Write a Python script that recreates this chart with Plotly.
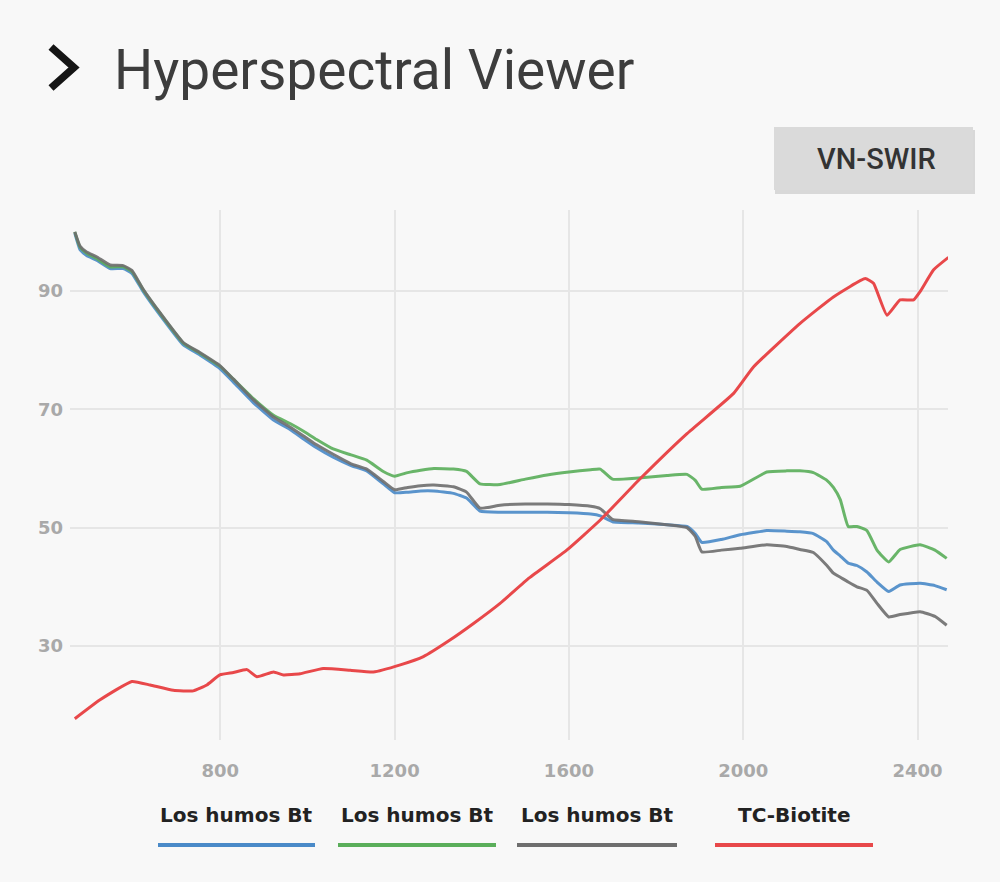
import plotly.graph_objects as go

# ---------------- data ----------------
wavelength = [466, 478, 493, 516, 547, 577, 597, 623, 662, 715, 753, 799, 830, 876, 922, 960,
              991, 1021, 1059, 1100, 1136, 1174, 1200, 1230, 1260, 1290, 1335, 1365, 1396, 1442,
              1500, 1550, 1600, 1650, 1672, 1700, 1760, 1825, 1871, 1890, 1905, 1950, 1993, 2054,
              2100, 2130, 2161, 2192, 2207, 2223, 2241, 2261, 2284, 2307, 2334, 2360, 2406, 2440, 2467]

humos_blue = [99.8, 97.0, 96.0, 95.2, 93.8, 93.8, 93.0, 89.9, 85.9, 80.9, 79.2, 76.9, 74.6, 71.1, 68.2, 66.6,
              65.0, 63.5, 61.9, 60.5, 59.6, 57.4, 55.9, 56.0, 56.2, 56.2, 55.8, 55.0, 52.8, 52.6,
              52.6, 52.6, 52.5, 52.3, 52.0, 51.0, 50.8, 50.5, 50.2, 49.0, 47.5, 48.0, 48.8, 49.5,
              49.4, 49.3, 49.0, 47.6, 46.2, 45.2, 44.0, 43.6, 42.5, 40.8, 39.2, 40.3, 40.6, 40.2, 39.5]

humos_green = [100.0, 97.4, 96.4, 95.5, 94.1, 94.1, 93.3, 90.2, 86.2, 81.2, 79.5, 77.3, 75.1, 71.8, 69.0, 67.6,
               66.3, 64.9, 63.3, 62.3, 61.4, 59.5, 58.7, 59.3, 59.7, 60.0, 59.9, 59.5, 57.4, 57.3,
               58.2, 58.9, 59.4, 59.8, 59.9, 58.2, 58.4, 58.8, 59.0, 58.0, 56.5, 56.8, 57.0, 59.4,
               59.6, 59.6, 59.3, 58.0, 56.8, 54.7, 50.2, 50.2, 49.5, 46.2, 44.2, 46.3, 47.1, 46.2, 44.8]

humos_gray = [100.0, 97.6, 96.6, 95.8, 94.4, 94.3, 93.5, 90.3, 86.3, 81.3, 79.6, 77.4, 75.1, 71.6, 68.7, 67.0,
              65.5, 64.0, 62.4, 60.8, 59.9, 57.8, 56.4, 56.8, 57.1, 57.2, 56.9, 56.0, 53.3, 53.8,
              54.0, 54.0, 53.9, 53.6, 53.2, 51.4, 51.0, 50.5, 50.0, 48.5, 45.9, 46.2, 46.5, 47.1,
              46.8, 46.3, 45.8, 43.6, 42.3, 41.6, 40.8, 40.0, 39.4, 37.2, 34.9, 35.3, 35.8, 35.0, 33.5]

biotite_wavelength = [466, 524, 597, 639, 692, 738, 769, 799, 830, 861, 884, 922, 945, 983, 1036, 1098,
                      1151, 1213, 1266, 1327, 1381, 1442, 1509, 1595, 1672, 1764, 1871, 1978, 2024,
                      2130, 2207, 2280, 2299, 2330, 2360, 2391, 2406, 2437, 2471]
biotite = [17.7, 20.9, 24.0, 23.4, 22.5, 22.4, 23.4, 25.1, 25.5, 26.0, 24.8, 25.6, 25.1, 25.3, 26.2, 25.9,
           25.6, 26.8, 28.2, 31.0, 33.8, 37.2, 41.5, 46.2, 51.3, 58.3, 65.9, 72.7, 77.2,
           84.5, 89.0, 92.1, 91.3, 85.9, 88.5, 88.5, 89.9, 93.6, 95.7]

series_names = ["Los humos Bt", "Los humos Bt", "Los humos Bt", "TC-Biotite"]
series_colors = ["#4a8ac8", "#5aae5a", "#6e6e6e", "#e8484a"]
x_ticks = [800, 1200, 1600, 2000, 2400]
y_ticks = [30, 50, 70, 90]

# ---------------- layout geometry ----------------
W, H = 1000, 882
ML, MR, MT, MB = 70, 52, 210, 142
PW, PH = W - ML - MR, H - MT - MB
BG = "#f8f8f8"


def px(x):
    return (x - ML) / PW


def py(y):
    return (H - MB - y) / PH


fig = go.Figure()
ys = [humos_blue, humos_green, humos_gray]
for i, yv in enumerate(ys):
    fig.add_trace(go.Scatter(x=wavelength, y=yv, mode="lines", name=series_names[i],
                             line=dict(color=series_colors[i], width=3, shape="spline", smoothing=0.4),
                             opacity=0.9, showlegend=False))
fig.add_trace(go.Scatter(x=biotite_wavelength, y=biotite, mode="lines", name=series_names[3],
                         line=dict(color=series_colors[3], width=3, shape="spline", smoothing=0.4),
                         showlegend=False))

tickfont = dict(family="DejaVu Sans", size=18, color="#a9a9a9", weight="bold")
fig.update_xaxes(range=[455, 2470], tickvals=x_ticks, showgrid=True, gridcolor="#e6e6e6",
                 gridwidth=1.5, zeroline=False, showline=False, ticks="", tickfont=tickfont,
                 ticklabelstandoff=18)
fig.update_yaxes(range=[14.1, 103.7], tickvals=y_ticks, showgrid=True, gridcolor="#e6e6e6",
                 gridwidth=1.5, zeroline=False, showline=False, ticks="", tickfont=tickfont,
                 ticklabelstandoff=6)

shapes = []
annotations = []

# title chevron
shapes.append(dict(type="path", xref="paper", yref="paper",
                   path=f"M {px(51)},{py(47)} L {px(74)},{py(67.5)} L {px(51)},{py(88)}",
                   line=dict(color="#151515", width=7.5)))
annotations.append(dict(text="Hyperspectral Viewer", xref="paper", yref="paper",
                        x=px(112), y=py(70), xanchor="left", yanchor="middle", showarrow=False,
                        font=dict(family="Roboto", size=55, color="#3d3d3d")))

# button
shapes.append(dict(type="rect", xref="paper", yref="paper", x0=px(775), x1=px(975),
                   y0=py(130), y1=py(194), fillcolor="#bdbdbd", line=dict(width=0), opacity=0.55))
shapes.append(dict(type="rect", xref="paper", yref="paper", x0=px(774), x1=px(973),
                   y0=py(127), y1=py(190), fillcolor="#dadada", line=dict(width=0)))
annotations.append(dict(text="VN-SWIR", xref="paper", yref="paper", x=px(876), y=py(159),
                        xanchor="center", yanchor="middle", showarrow=False,
                        font=dict(family="Roboto", size=29, color="#333333", weight=500)))

# legend
legend_spans = [(158, 315), (338, 496), (517, 677), (715, 873)]
for (a, b), name, col in zip(legend_spans, series_names, series_colors):
    shapes.append(dict(type="line", xref="paper", yref="paper", x0=px(a), x1=px(b),
                       y0=py(845), y1=py(845), line=dict(color=col, width=4)))
    annotations.append(dict(text=name, xref="paper", yref="paper", x=px((a + b) / 2), y=py(815),
                            xanchor="center", yanchor="middle", showarrow=False,
                            font=dict(family="DejaVu Sans", size=20, color="#222222", weight="bold")))

fig.update_layout(width=W, height=H, margin=dict(l=ML, r=MR, t=MT, b=MB, autoexpand=False),
                  paper_bgcolor=BG, plot_bgcolor=BG, shapes=shapes, annotations=annotations,
                  showlegend=False)

fig.write_html("out.html", config={"displayModeBar": False},
               post_script="document.body.style.margin='0';document.body.style.overflow='hidden';")
